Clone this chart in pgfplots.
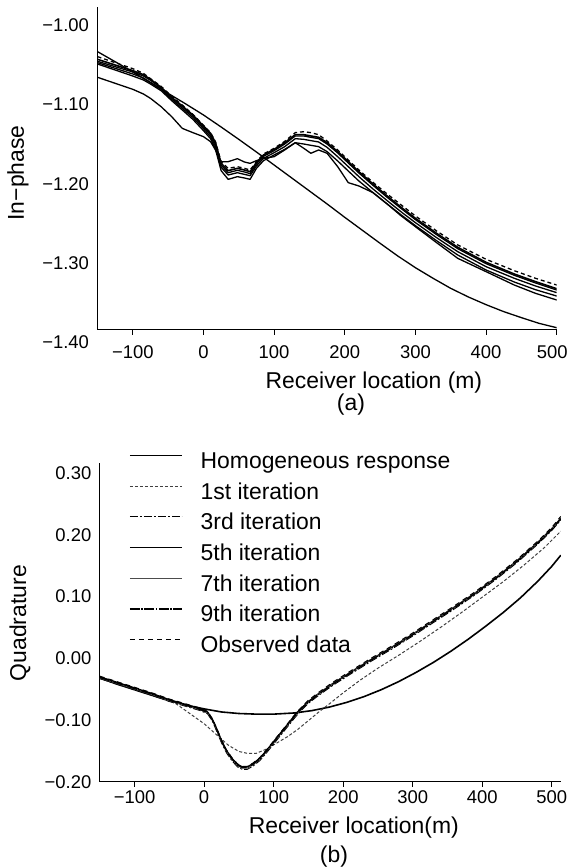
\documentclass[border=0pt]{standalone}
\usepackage{fontspec}
\setmainfont{Liberation Sans}
\usepackage{pgfplots}
\usepackage{pgfplotstable}
\pgfplotsset{compat=1.18}

\pgfplotstableread{
x     obs     n9      n7      n5      n3      n1
-150 -1.0547 -1.0581 -1.0606 -1.0623 -1.0640 -1.0808
-125 -1.0623 -1.0653 -1.0674 -1.0695 -1.0716 -1.0884
-100 -1.0699 -1.0724 -1.0741 -1.0766 -1.0792 -1.0960
-85  -1.0758 -1.0775 -1.0792 -1.0817 -1.0842 -1.1019
-75  -1.0825 -1.0834 -1.0846 -1.0872 -1.0893 -1.1074
-60  -1.0922 -1.0935 -1.0943 -1.0960 -1.0977 -1.1179
-45  -1.1048 -1.1061 -1.1069 -1.1086 -1.1103 -1.1305
-30  -1.1158 -1.1171 -1.1179 -1.1200 -1.1221 -1.1453
-15  -1.1276 -1.1284 -1.1293 -1.1314 -1.1339 -1.1507
0    -1.1415 -1.1423 -1.1436 -1.1457 -1.1482 -1.1558
10   -1.1507 -1.1516 -1.1533 -1.1558 -1.1583 -1.1621
17   -1.1621 -1.1634 -1.1655 -1.1684 -1.1718 -1.1726
25   -1.1874 -1.1895 -1.1920 -1.1945 -1.1987 -1.1874
35   -1.1958 -1.1987 -1.2013 -1.2042 -1.2097 -1.1874
48   -1.1937 -1.1958 -1.1983 -1.2013 -1.2063 -1.1836
58   -1.1958 -1.1979 -1.2004 -1.2034 -1.2080 -1.1878
66   -1.1979 -1.2000 -1.2025 -1.2051 -1.2097 -1.1895
75   -1.1874 -1.1886 -1.1903 -1.1928 -1.1958 -1.1861
85   -1.1777 -1.1789 -1.1806 -1.1832 -1.1861 -1.1832
100  -1.1705 -1.1718 -1.1735 -1.1760 -1.1789 -1.1811
115  -1.1617 -1.1634 -1.1651 -1.1684 -1.1718 -1.1726
130  -1.1507 -1.1533 -1.1549 -1.1583 -1.1634 -1.1634
142  -1.1495 -1.1533 -1.1549 -1.1592 -1.1651 -1.1705
152  -1.1507 -1.1549 -1.1566 -1.1608 -1.1667 -1.1768
163  -1.1533 -1.1566 -1.1583 -1.1625 -1.1684 -1.1726
175  -1.1613 -1.1634 -1.1651 -1.1693 -1.1747 -1.1768
190  -1.1726 -1.1747 -1.1764 -1.1811 -1.1865 -1.1937
205  -1.1853 -1.1874 -1.1891 -1.1937 -1.1992 -1.2139
220  -1.1979 -1.2000 -1.2017 -1.2063 -1.2118 -1.2181
240  -1.2135 -1.2156 -1.2173 -1.2219 -1.2265 -1.2265
260  -1.2282 -1.2307 -1.2324 -1.2366 -1.2408 -1.2408
280  -1.2421 -1.2451 -1.2467 -1.2509 -1.2547 -1.2560
300  -1.2560 -1.2589 -1.2606 -1.2644 -1.2682 -1.2695
330  -1.2749 -1.2779 -1.2796 -1.2834 -1.2872 -1.2897
360  -1.2926 -1.2956 -1.2973 -1.3011 -1.3053 -1.3095
400  -1.3107 -1.3145 -1.3162 -1.3200 -1.3242 -1.3263
440  -1.3251 -1.3293 -1.3309 -1.3347 -1.3394 -1.3432
470  -1.3347 -1.3389 -1.3406 -1.3444 -1.3491 -1.3537
500  -1.3432 -1.3478 -1.3495 -1.3528 -1.3571 -1.3621
}\toptable

\pgfplotstableread{
x    h
-150 -1.0484
-125 -1.0611
-100 -1.0741
-75  -1.0876
-50  -1.1011
-25  -1.1145
0    -1.1284
25   -1.1436
50   -1.1592
75   -1.1752
100  -1.1916
125  -1.2080
150  -1.2244
175  -1.2408
200  -1.2577
225  -1.2741
250  -1.2905
275  -1.3065
300  -1.3213
325  -1.3347
350  -1.3474
375  -1.3583
400  -1.3680
425  -1.3768
450  -1.3844
475  -1.3916
500  -1.3971
}\tophom

\pgfplotstableread{
x    h
-150 -0.0320
-125 -0.0420
-100 -0.0510
-75  -0.0600
-50  -0.0690
-25  -0.0760
0    -0.0820
25   -0.0870
50   -0.0895
75   -0.0905
100  -0.0905
130  -0.0886
155  -0.0848
180  -0.0791
205  -0.0715
230  -0.0621
255  -0.0508
280  -0.0377
305  -0.0228
330  -0.0065
355  0.0115
380  0.0310
405  0.0520
430  0.0740
455  0.0980
480  0.1250
500  0.1490
513  0.1670
}\bothom

\pgfplotstableread{
x    n1
-150 -0.032
-125 -0.040
-100 -0.049
-75  -0.058
-55  -0.066
-40  -0.074
-20  -0.090
0    -0.106
20   -0.126
35   -0.141
50   -0.151
62   -0.154
75   -0.154
90   -0.147
105  -0.137
120  -0.127
135  -0.115
150  -0.101
165  -0.087
180  -0.074
200  -0.056
225  -0.035
250  -0.016
280  0.005
310  0.027
340  0.050
370  0.074
400  0.099
430  0.124
460  0.151
490  0.180
513  0.206
}\botfirst

\pgfplotstableread{
x    obs    n9     n7     n5     n3
-150 -0.029 -0.031 -0.032 -0.030 -0.033
-125 -0.038 -0.040 -0.041 -0.039 -0.042
-100 -0.047 -0.049 -0.050 -0.048 -0.051
-75  -0.056 -0.058 -0.059 -0.057 -0.060
-50  -0.066 -0.068 -0.069 -0.067 -0.070
-35  -0.071 -0.073 -0.074 -0.072 -0.075
-20  -0.076 -0.078 -0.079 -0.077 -0.080
-5   -0.081 -0.083 -0.084 -0.082 -0.085
5    -0.086 -0.088 -0.089 -0.087 -0.090
12   -0.098 -0.100 -0.101 -0.099 -0.102
18   -0.113 -0.115 -0.116 -0.114 -0.118
25   -0.132 -0.134 -0.135 -0.133 -0.137
32   -0.148 -0.150 -0.151 -0.149 -0.153
40   -0.161 -0.163 -0.164 -0.162 -0.166
48   -0.171 -0.173 -0.174 -0.172 -0.176
55   -0.175 -0.177 -0.178 -0.176 -0.180
62   -0.175 -0.177 -0.178 -0.176 -0.180
70   -0.170 -0.172 -0.173 -0.171 -0.175
80   -0.161 -0.163 -0.164 -0.162 -0.166
90   -0.148 -0.150 -0.151 -0.149 -0.153
100  -0.134 -0.136 -0.137 -0.135 -0.139
110  -0.120 -0.122 -0.123 -0.121 -0.125
120  -0.106 -0.108 -0.109 -0.107 -0.111
130  -0.092 -0.094 -0.095 -0.093 -0.097
136  -0.084 -0.086 -0.087 -0.085 -0.089
150  -0.068 -0.071 -0.071 -0.070 -0.073
165  -0.055 -0.058 -0.057 -0.057 -0.060
185  -0.039 -0.042 -0.041 -0.041 -0.044
210  -0.021 -0.024 -0.023 -0.023 -0.026
240  0.000  -0.003 -0.002 -0.002 -0.005
270  0.020  0.017  0.018  0.018  0.015
300  0.041  0.038  0.039  0.039  0.036
330  0.063  0.060  0.061  0.061  0.058
360  0.085  0.082  0.083  0.083  0.080
390  0.108  0.105  0.106  0.106  0.103
420  0.133  0.130  0.131  0.131  0.128
450  0.160  0.157  0.158  0.158  0.155
480  0.190  0.187  0.188  0.188  0.185
500  0.212  0.209  0.210  0.210  0.207
513  0.230  0.226  0.227  0.227  0.224
}\botbunch

\pgfplotsset{
  common/.style={
    scale only axis,
    anchor=south west,
    clip mode=individual,
    axis x line*=bottom,
    axis y line*=left,
    axis line style={-, line width=1bp, black},
    tick align=outside,
    major tick length=5bp,
    ytick style={draw=none},
    xtick style={line width=1bp, black},
    tick label style={font=\fontsize{18.5}{20}\selectfont},
    label style={font=\fontsize{23}{25}\selectfont},
    xtick={-100,0,100,200,300,400,500},
    every axis plot/.append style={line join=round},
  },
  topline/.style={black, line width=1.3bp},
}

\begin{document}
\begin{tikzpicture}
\useasboundingbox (0,0) rectangle (569bp,868bp);

% ---------- (a) In-phase ----------
\begin{axis}[common,
  at={(97.5bp,538bp)}, width=459.2bp, height=323bp,
  xmin=-150, xmax=500, ymin=-1.40, ymax=-0.992,
  xticklabels={−100,0,100,200,300,400,\hbox to 0pt{\hss 500\hskip-11bp}},
  ytick={-1.40,-1.30,-1.20,-1.10,-1.00},
  yticklabels={−1.40,−1.30,−1.20,−1.10,−1.00},
  yticklabel style={yshift=-12bp},
  xticklabel style={yshift=-7bp},
  xlabel={Receiver location (m)},
  xlabel style={at={(axis description cs:0.602,0)}, anchor=center, yshift=-53bp},
  ylabel={In−phase},
  ylabel style={at={(axis description cs:-0.173,0.486)}, anchor=center},
]
\addplot[topline] table[x=x,y=h] {\tophom};
\addplot[topline] table[x=x,y=n1] {\toptable};
\addplot[topline] table[x=x,y=n3] {\toptable};
\addplot[topline] table[x=x,y=n5] {\toptable};
\addplot[topline] table[x=x,y=n7] {\toptable};
\addplot[topline, line width=1.6bp] table[x=x,y=n9] {\toptable};
\addplot[black, line width=1.3bp, dash pattern=on 4bp off 3bp] table[x=x,y=obs] {\toptable};
\node[font=\fontsize{23}{25}\selectfont, yshift=-75bp] at (axis description cs:0.552,0) {(a)};
\end{axis}

% ---------- (b) Quadrature ----------
\begin{axis}[common,
  at={(99.8bp,86.3bp)}, width=461bp, height=318.4bp,
  xmin=-150, xmax=513, ymin=-0.20, ymax=0.316,
  xticklabels={−100,0,100,200,300,400,500},
  ytick={-0.20,-0.10,0,0.10,0.20,0.30},
  yticklabels={−0.20,−0.10,0.00,0.10,0.20,0.30},
  xlabel={Receiver location(m)},
  xlabel style={at={(axis description cs:0.551,0)}, anchor=center, yshift=-46bp},
  ylabel={Quadrature},
  ylabel style={at={(axis description cs:-0.173,0.498)}, anchor=center},
  legend cell align=left,
  legend image code/.code={\draw[#1] (0bp,7bp) -- (52bp,7bp);},
  legend style={at={(axis description cs:0.063,1.038)}, anchor=north west,
    draw=none, fill=none, inner sep=0pt,
    font=\fontsize{23}{25}\selectfont, row sep=8.7bp,
    nodes={inner sep=0pt, text height=17bp, text depth=5bp},
    /tikz/every odd column/.append style={column sep=18bp}},
]
\addplot[black, line width=1.6bp] table[x=x,y=h] {\bothom};
\addlegendentry{Homogeneous response}
\addplot[black!75, line width=1bp, dash pattern=on 3bp off 2bp] table[x=x,y=n1] {\botfirst};
\addlegendentry{1st iteration}
\addplot[black, line width=0.9bp, dash pattern=on 8bp off 2bp on 2bp off 2bp] table[x=x,y=n3] {\botbunch};
\addlegendentry{3rd iteration}
\addplot[black, line width=1.3bp] table[x=x,y=n5] {\botbunch};
\addlegendentry{5th iteration}
\addplot[black!70, line width=0.8bp] table[x=x,y=n7] {\botbunch};
\addlegendentry{7th iteration}
\addplot[black, line width=1.4bp, dash pattern=on 10bp off 1.5bp on 1.5bp off 1.5bp] table[x=x,y=n9] {\botbunch};
\addlegendentry{9th iteration}
\addplot[black, line width=1bp, dash pattern=on 5bp off 4bp] table[x=x,y=obs] {\botbunch};
\addlegendentry{Observed data}
\node[font=\fontsize{23}{25}\selectfont, yshift=-75bp] at (axis description cs:0.508,0) {(b)};
\end{axis}
\end{tikzpicture}
\end{document}
